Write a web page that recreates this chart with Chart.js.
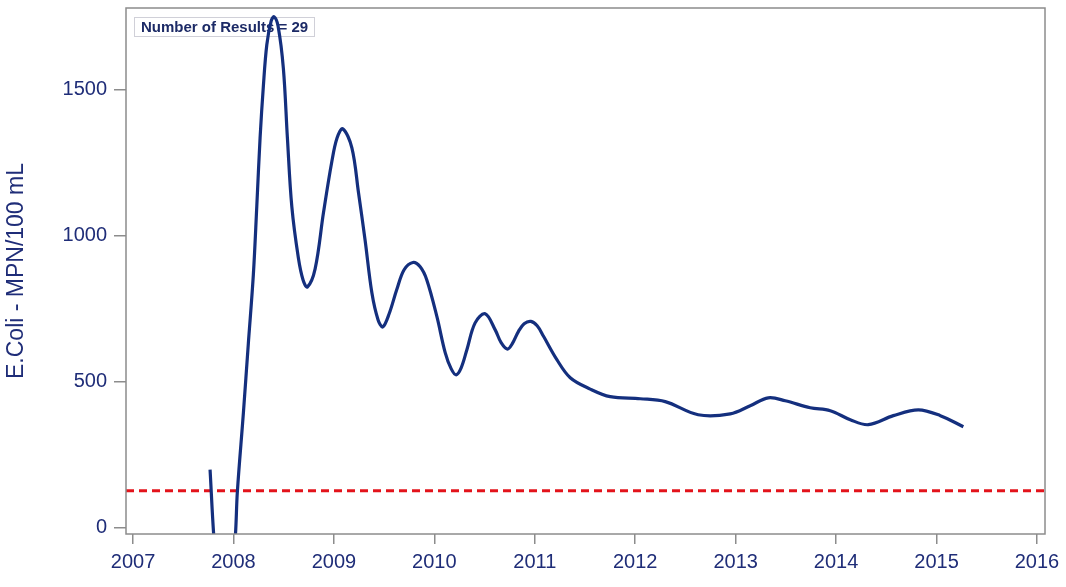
<!DOCTYPE html>
<html>
<head>
<meta charset="utf-8">
<script src="https://cdn.jsdelivr.net/npm/chart.js@4/dist/chart.umd.min.js"></script>
<style>
  html, body { margin: 0; padding: 0; background: #fff; }
  #wrap { width: 1066px; height: 587px; }
</style>
</head>
<body>
<div id="wrap"><canvas id="ecoliChart" width="1066" height="587"></canvas></div>
<script>
// smoothed E.Coli trend (decimal year, MPN/100 mL)
const years = [2007.767, 2007.807, 2007.906, 2008.016, 2008.039, 2008.099, 2008.148, 2008.198, 2008.232,
  2008.265, 2008.298, 2008.332, 2008.375, 2008.404, 2008.444, 2008.497, 2008.537, 2008.581, 2008.646,
  2008.693, 2008.736, 2008.813, 2008.896, 2008.979, 2009.032, 2009.089, 2009.179, 2009.245, 2009.311,
  2009.378, 2009.440, 2009.487, 2009.550, 2009.626, 2009.699, 2009.786, 2009.859, 2009.925, 2010.025,
  2010.108, 2010.167, 2010.217, 2010.267, 2010.324, 2010.406, 2010.506, 2010.606, 2010.665, 2010.728,
  2010.775, 2010.838, 2010.894, 2010.961, 2011.024, 2011.087, 2011.220, 2011.353, 2011.552, 2011.751,
  2012.050, 2012.299, 2012.627, 2012.946, 2013.145, 2013.325, 2013.494, 2013.743, 2013.942, 2014.141,
  2014.321, 2014.570, 2014.819, 2015.038, 2015.267];
const ecoli = [198, -44, -450, -44, 123, 393, 630, 866, 1099,
  1335, 1514, 1654, 1735, 1750, 1718, 1572, 1335, 1099, 924,
  848, 824, 886, 1078, 1253, 1335, 1366, 1301, 1147, 983,
  804, 711, 687, 732, 815, 883, 908, 893, 848, 723,
  599, 544, 523, 547, 609, 701, 732, 677, 633, 611,
  629, 672, 698, 706, 691, 655, 575, 513, 474, 448,
  441, 431, 386, 389, 417, 444, 434, 410, 400, 369,
  352, 383, 403, 383, 345];

const threshold = 126;
const resultCount = 29;
const xTicks = [2007, 2008, 2009, 2010, 2011, 2012, 2013, 2014, 2015, 2016];
const yTicks = [0, 500, 1000, 1500];
const xRange = [2006.93, 2016.08];
const yRange = [-22.6, 1780];

const navy = '#1f2d78';
const lineBlue = '#142f7e';
const axisGray = '#8c8c8c';

// frame around the plot + the "Number of Results" box
const framePlugin = {
  id: 'frame',
  beforeDatasetsDraw(chart) {
    const { ctx } = chart;
    ctx.save();
    ctx.fillStyle = 'rgba(255,255,255,0.9)';
    ctx.strokeStyle = '#d0d0d8';
    ctx.lineWidth = 1;
    ctx.fillRect(134.5, 17.5, 180, 19);
    ctx.strokeRect(134.5, 17.5, 180, 19);
    ctx.fillStyle = '#1c2a66';
    ctx.font = 'bold 15px "Liberation Sans", Arial, sans-serif';
    ctx.textBaseline = 'middle';
    ctx.fillText('Number of Results = ' + resultCount, 141, 27.5);
    ctx.restore();
  },
  afterDraw(chart) {
    const { ctx, chartArea: a } = chart;
    ctx.save();
    ctx.strokeStyle = axisGray;
    ctx.lineWidth = 1.5;
    ctx.strokeRect(a.left, a.top, a.right - a.left, a.bottom - a.top);
    ctx.restore();
  }
};

const ctx = document.getElementById('ecoliChart').getContext('2d');

new Chart(ctx, {
  type: 'line',
  data: {
    datasets: [{
      label: 'E.Coli',
      data: years.map((yr, i) => ({ x: yr, y: ecoli[i] })),
      borderColor: lineBlue,
      borderWidth: 3.2,
      pointRadius: 0,
      tension: 0.35,
      order: 1
    }, {
      label: 'Standard',
      data: [{ x: xRange[0], y: threshold }, { x: xRange[1], y: threshold }],
      borderColor: '#e3131b',
      borderWidth: 3,
      borderDash: [8, 5],
      pointRadius: 0,
      order: 2
    }]
  },
  options: {
    responsive: false,
    animation: false,
    layout: { padding: { top: 8, right: 21, left: 0, bottom: 0 } },
    plugins: {
      legend: { display: false },
      tooltip: { enabled: false }
    },
    scales: {
      x: {
        type: 'linear',
        min: xRange[0],
        max: xRange[1],
        afterBuildTicks: (scale) => { scale.ticks = xTicks.map(v => ({ value: v })); },
        afterFit: (scale) => { scale.height = 53; },
        grid: { drawOnChartArea: false, drawTicks: true, tickLength: 10, color: axisGray, lineWidth: 1.5 },
        border: { display: false },
        ticks: {
          color: navy,
          padding: 6,
          maxRotation: 0,
          font: { family: '"Liberation Sans", Arial, sans-serif', size: 20 },
          callback: (v) => String(v)
        }
      },
      y: {
        min: yRange[0],
        max: yRange[1],
        afterBuildTicks: (scale) => { scale.ticks = yTicks.map(v => ({ value: v })); },
        afterFit: (scale) => {
          scale.width = 126;
          scale.paddingTop = 0;
          scale.paddingBottom = 0;
        },
        grid: { drawOnChartArea: false, drawTicks: true, tickLength: 12, color: axisGray, lineWidth: 1.5 },
        border: { display: false },
        title: {
          display: true,
          text: 'E.Coli - MPN/100 mL',
          color: navy,
          padding: { top: 3, bottom: 0 },
          font: { family: '"Liberation Sans", Arial, sans-serif', size: 23 }
        },
        ticks: {
          color: navy,
          padding: 7,
          font: { family: '"Liberation Sans", Arial, sans-serif', size: 20 },
          callback: (v) => String(v)
        }
      }
    }
  },
  plugins: [framePlugin]
});
</script>
</body>
</html>
